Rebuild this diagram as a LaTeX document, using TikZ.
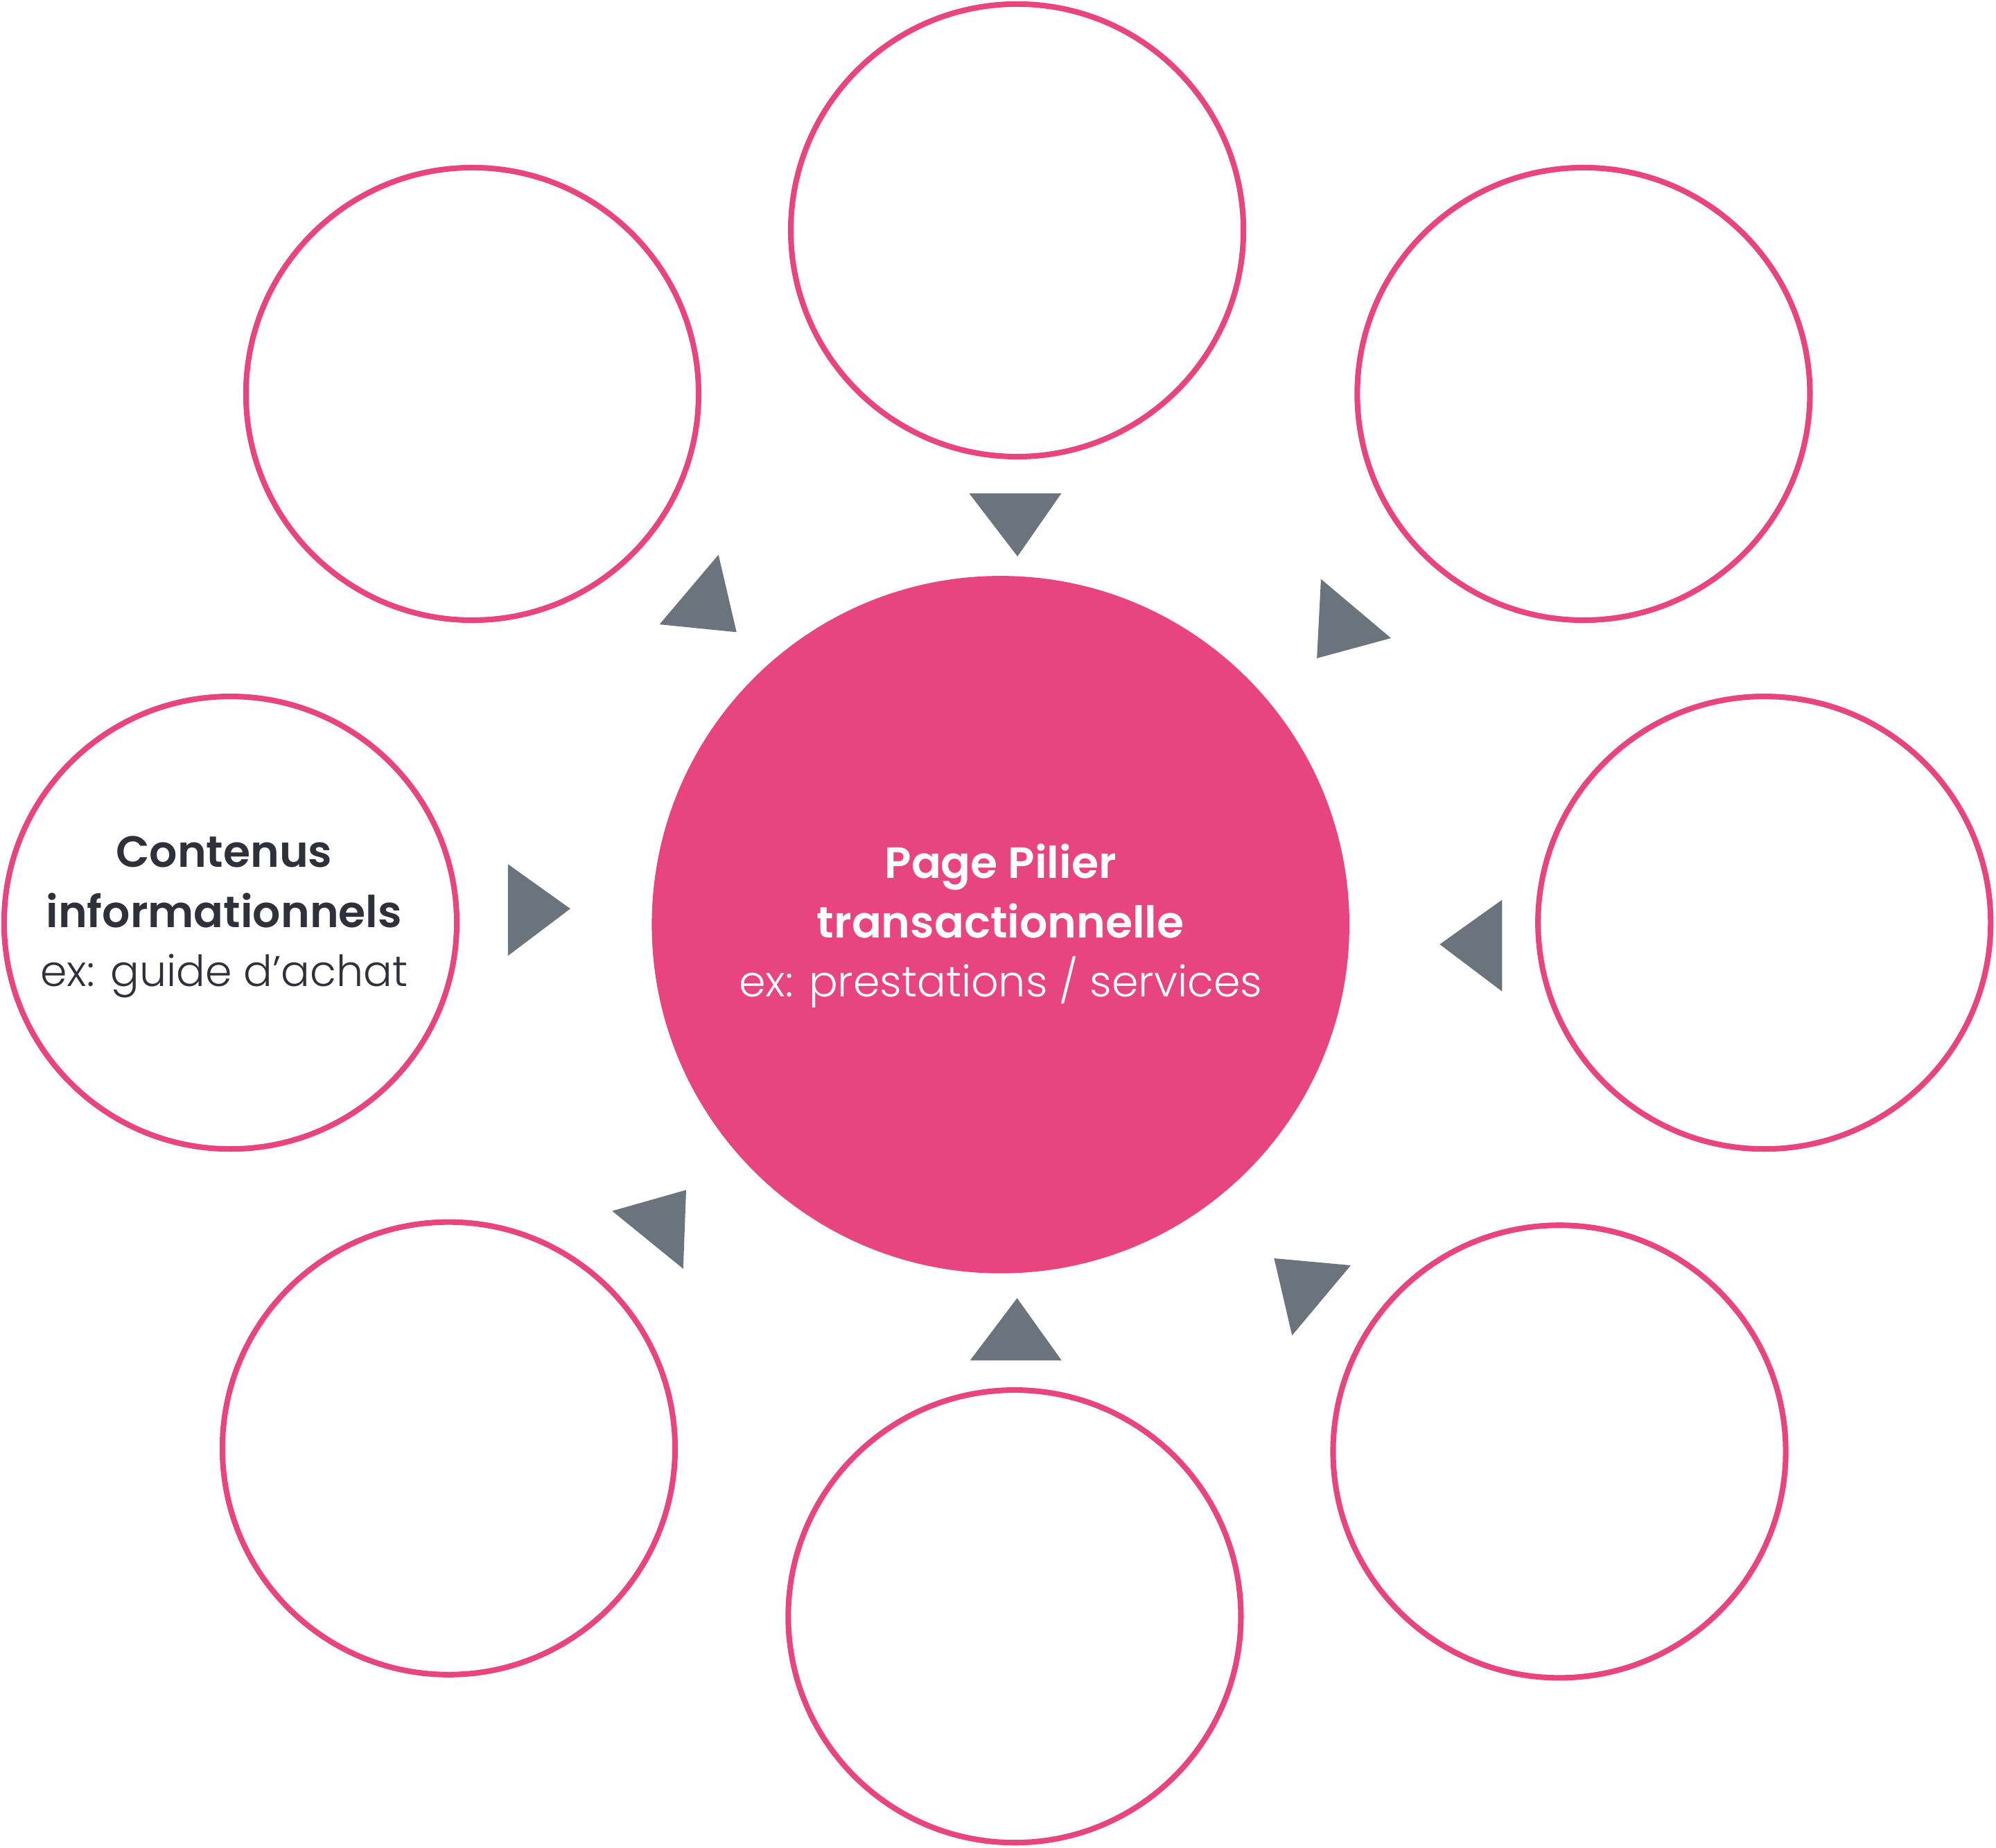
\documentclass[tikz,border=0pt]{standalone}
\usepackage{fontspec}
\setmainfont{Poppins}
\newfontfamily\poplight{Poppins Light}
\newfontfamily\popsemi{Poppins SemiBold}
\definecolor{pinkc}{HTML}{E8457E}
\definecolor{grayc}{HTML}{6B737C}
\definecolor{darktxt}{HTML}{2F3039}
\begin{document}
\begin{tikzpicture}[x=0.018367cm,y=-0.018367cm,
  tri/.style={fill=grayc},
  bold/.style={font=\popsemi\fontsize{18}{24.5}\selectfont,anchor=base,inner sep=0pt},
  light/.style={font=\poplight\fontsize{17.6}{24.5}\selectfont,anchor=base,inner sep=0pt}]
\useasboundingbox (0,0) rectangle (1568,1452);
% rings: radius 177.8 display units
\def\R{177.8}
\foreach \n/\x/\y in {ctop/799/181, ctr/1244/309.5, cright/1386/725, cbr/1225/1140.5,
                      cbot/797/1270, cbl/352.5/1138, cleft/181/725, ctl/371/309.5}{
  \draw[draw=pinkc,line width=2.3pt] (\x,\y) circle [radius=\R];
  \coordinate (\n) at (\x,\y);
}
\fill[pinkc] (786,726.5) circle [radius=274];
\coordinate (hub) at (786,726.5);
% triangles
\fill[tri] (761.4,387.7) -- (833.7,387.7) -- (799.3,437.2) -- cycle;
\fill[tri] (1037.7,455) -- (1092.7,501.4) -- (1034.5,517.2) -- cycle;
\fill[tri] (1180,707) -- (1180,779) -- (1131,742) -- cycle;
\fill[tri] (1000.9,988.7) -- (1061.1,994.2) -- (1015.0,1049.3) -- cycle;
\fill[tri] (762,1069) -- (834,1069) -- (799,1020) -- cycle;
\fill[tri] (539.0,935.0) -- (536.7,996.9) -- (480.9,951.5) -- cycle;
\fill[tri] (399,679) -- (399,751) -- (448,714) -- cycle;
\fill[tri] (564.4,435.9) -- (578.6,496.7) -- (518.1,490.6) -- cycle;
% center texts
\node[bold,text=white] (h1) at (786,690) {Page Pilier};
\node[bold,text=white] (h2) at (786,737) {transactionnelle};
\node[light,text=white] (h3) at (786,783) {ex: prestations / services};
% left texts
\node[bold,text=darktxt] (l1) at (176,681.6) {Contenus};
\node[bold,text=darktxt] (l2) at (176,728.5) {informationnels};
\node[light,text=darktxt] (l3) at (176,774.8) {ex: guide d’achat};
\end{tikzpicture}
\end{document}
